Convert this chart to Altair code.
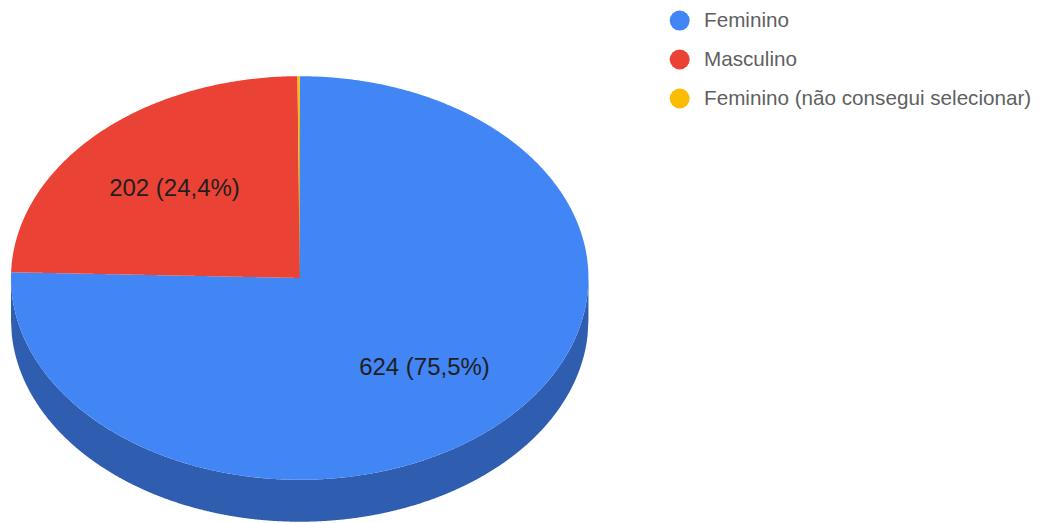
import numpy as np
import pandas as pd
import altair as alt

categories = ["Feminino", "Masculino", "Feminino (não consegui selecionar)"]
values = [624, 202, 1]
labels = ["624 (75,5%)", "202 (24,4%)", ""]
colors = ["#4285f4", "#ea4335", "#fbbc04"]
wall_color = "#2f5eb0"

W, H = 1024, 507
CX, CY, RX, RY = 292, 270, 289, 202
DEPTH = 42 / RY
LABEL_R = 0.62

x_domain = [-CX / RX, (W - CX) / RX]
y_domain = [-(H - CY) / RY, CY / RY]

total = sum(values)
edges = np.cumsum([0] + values) / total * 2 * np.pi


def slice_band(t0, t1):
    """Upper and lower outline of a slice, at each x of its outline."""
    n = max(3, int((t1 - t0) / (2 * np.pi) * 720))
    t = np.linspace(t0, t1, n)
    px = np.concatenate([[0.0], np.sin(t)])
    py = np.concatenate([[0.0], np.cos(t)])
    qx, qy = np.roll(px, -1), np.roll(py, -1)
    rows = []
    for u in np.unique(np.round(px, 6)):
        hits = []
        for a, b, c, d in zip(px, py, qx, qy):
            lo, hi = min(a, c), max(a, c)
            if lo - 1e-6 <= u <= hi + 1e-6:
                if abs(c - a) < 1e-9:
                    hits += [b, d]
                else:
                    hits.append(b + (u - a) / (c - a) * (d - b))
        rows.append((float(u), float(max(hits)), float(min(hits))))
    return rows


slice_rows = []
for cat, t0, t1 in zip(categories, edges[:-1], edges[1:]):
    for u, top, bottom in slice_band(t0, t1):
        slice_rows.append({"category": cat, "u": u, "top": top, "bottom": bottom})
slices = pd.DataFrame(slice_rows)

us = np.linspace(-1, 1, 721)
low = -np.sqrt(np.clip(1 - us**2, 0, 1))
wall = pd.DataFrame({"u": us, "top": low, "bottom": low - DEPTH})

mids = (edges[:-1] + edges[1:]) / 2
text_df = pd.DataFrame({
    "u": LABEL_R * np.sin(mids),
    "v": LABEL_R * np.cos(mids),
    "label": labels,
})
text_df = text_df[text_df["label"] != ""]

x_scale = alt.Scale(domain=x_domain, nice=False, zero=False)
y_scale = alt.Scale(domain=y_domain, nice=False, zero=False)

wall_layer = alt.Chart(wall).mark_area(color=wall_color, clip=False).encode(
    x=alt.X("u:Q", scale=x_scale, axis=None),
    y=alt.Y("top:Q", scale=y_scale, axis=None),
    y2="bottom:Q",
)

slice_layer = alt.Chart(slices).mark_area(clip=False, interpolate="linear", orient="vertical").encode(
    x=alt.X("u:Q", scale=x_scale, axis=None, stack=None),
    y=alt.Y("top:Q", scale=y_scale, axis=None, stack=None),
    y2="bottom:Q",
    color=alt.Color(
        "category:N",
        scale=alt.Scale(domain=categories, range=colors),
        legend=alt.Legend(
            title=None,
            orient="none",
            legendX=662,
            legendY=2,
            symbolType="circle",
            symbolSize=400,
            symbolStrokeWidth=0,
            symbolOpacity=1,
            labelFont="Liberation Sans",
            labelFontSize=20.7,
            labelColor="#5f5f5f",
            labelLimit=400,
            labelOffset=14,
            rowPadding=17,
            padding=0,
        ),
    ),
)

text_layer = alt.Chart(text_df).mark_text(
    font="Liberation Sans", fontSize=24, color="#1f1f1f", align="center", baseline="middle"
).encode(
    x=alt.X("u:Q", scale=x_scale, axis=None),
    y=alt.Y("v:Q", scale=y_scale, axis=None),
    text="label:N",
)

chart = (
    alt.layer(wall_layer, slice_layer, text_layer)
    .properties(width=W, height=H, padding=0, background="white")
    .configure_view(stroke=None)
)

chart.save("out.html", embed_options={"renderer": "svg", "actions": False})
